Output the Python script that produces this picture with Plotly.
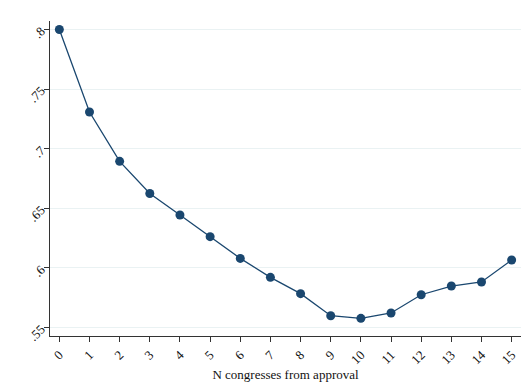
import plotly.graph_objects as go

congresses = list(range(16))
share = [0.800, 0.7308, 0.6894, 0.6624, 0.6444, 0.6262, 0.6080, 0.5921,
         0.5784, 0.5599, 0.5577, 0.5622, 0.5775, 0.5848, 0.5882, 0.6066]
y_ticks = [0.55, 0.60, 0.65, 0.70, 0.75, 0.80]
y_labels = [".55", ".6", ".65", ".7", ".75", ".8"]
x_title = "N congresses from approval"

navy = "#1a476f"

fig = go.Figure(go.Scatter(
    x=congresses, y=share, mode="lines+markers",
    line=dict(color=navy, width=1.3),
    marker=dict(color=navy, size=9),
))

fig.update_layout(
    width=529, height=392,
    margin=dict(l=50, r=8, t=21, b=56),
    plot_bgcolor="white", paper_bgcolor="white",
    font=dict(family="Liberation Serif", size=13, color="#111"),
    showlegend=False,
)
fig.update_xaxes(
    range=[-0.31, 15.31], tickvals=congresses, ticktext=[str(c) for c in congresses],
    tickangle=-45, ticks="outside", ticklen=5, tickcolor="#333",
    showline=True, linecolor="#333", linewidth=1.3, showgrid=False, zeroline=False,
    title=dict(text=x_title, font=dict(size=13), standoff=0),
)
fig.update_yaxes(
    range=[0.5429, 0.8071], tickvals=y_ticks, ticktext=y_labels,
    tickangle=-45, ticks="outside", ticklen=5, tickcolor="#333",
    showline=True, linecolor="#333", linewidth=1.3,
    showgrid=True, gridcolor="#eaf2f3", gridwidth=1, zeroline=False,
)

fig.write_html("out.html")
